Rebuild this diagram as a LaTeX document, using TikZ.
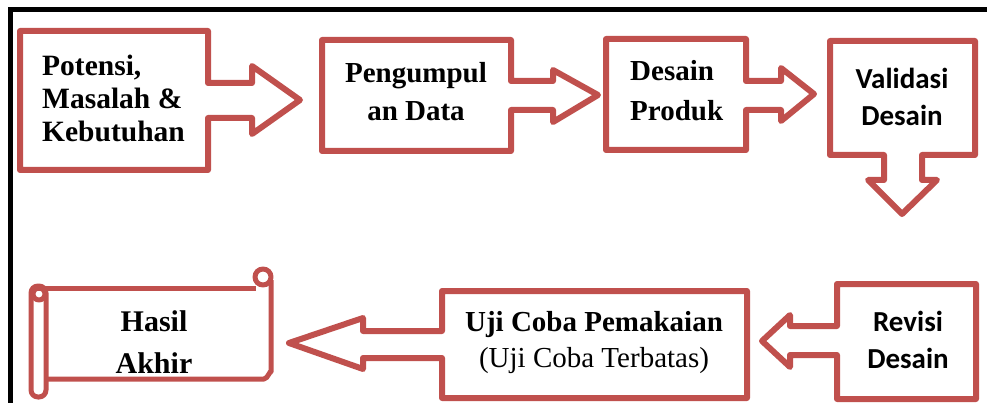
\documentclass[tikz,border=0pt]{standalone}
\usepackage{fontspec}
\setmainfont{Liberation Serif}
\newfontfamily\calibrifont{Carlito}
\usetikzlibrary{positioning}
\definecolor{CalloutRed}{RGB}{192,80,77}
\tikzset{
    callout/.style={draw=CalloutRed, line width=6pt, line join=round},
    scrollline/.style={draw=CalloutRed, line width=5pt, line join=round},
    frameline/.style={draw=black, line width=5pt},
    lbl/.style={inner sep=0pt, align=center, font=\fontsize{29}{38}\selectfont\bfseries},
    lblsans/.style={inner sep=0pt, align=center, font=\calibrifont\fontsize{29}{37}\selectfont\bfseries},
}
\begin{document}
\begin{tikzpicture}[x=1pt,y=-1pt]
\useasboundingbox (0,0) rectangle (987,403);
\draw[frameline] (10,403) -- (10,10) -- (987,10);

\draw[callout] (20,31) -- (208,31) -- (208,83) -- (252,83) -- (252,66) -- (300,100) -- (252,134) -- (252,118) -- (208,118) -- (208,170) -- (20,170) -- cycle;
\draw[callout] (322,40) -- (511,40) -- (511,81) -- (553,81) -- (553,70) -- (598,95) -- (553,122) -- (553,110) -- (511,110) -- (511,151) -- (322,151) -- cycle;
\draw[callout] (606,39) -- (746,39) -- (746,81) -- (781,81) -- (781,68) -- (814,94) -- (781,121) -- (781,110) -- (746,110) -- (746,150) -- (606,150) -- cycle;
\draw[callout] (830,41) -- (975,41) -- (975,155) -- (922,155) -- (922,180) -- (937,180) -- (902,214) -- (868,180) -- (884,180) -- (884,155) -- (830,155) -- cycle;
\draw[callout] (837,284) -- (976,284) -- (976,399) -- (837,399) -- (837,355) -- (790,355) -- (790,367) -- (762,341) -- (790,315) -- (790,326) -- (837,326) -- cycle;
\draw[callout] (442,291) -- (747,291) -- (747,398) -- (442,398) -- (442,358) -- (363,358) -- (363,369) -- (289,343) -- (363,318) -- (363,331) -- (442,331) -- cycle;

\draw[scrollline] (46,379) -- (264,379) to[out=0,in=90] (271,372) -- (271,280);
\draw[scrollline] (31,288) -- (256,288);
\draw[scrollline] (263,277) circle[radius=8];
\draw[scrollline, rounded corners=7] (31,286) rectangle (46,397);
\draw[scrollline] (39,294) circle[radius=6];

\node[lbl, align=left, anchor=west, font=\fontsize{29.5}{33}\selectfont\bfseries] (potensi) at (42,98) {Potensi,\\Masalah \&\\Kebutuhan};
\node[lbl] (kumpul) at (416,92) {Pengumpul\\an Data};
\node[lbl, align=left, anchor=west, font=\fontsize{29}{40}\selectfont\bfseries] (desain) at (630,91) {Desain\\Produk};
\node[lblsans] (validasi) at (902,97) {Validasi\\Desain};
\node[lblsans] (revisi) at (908,340) {Revisi\\Desain};
\node[lbl, font=\fontsize{29}{36}\selectfont] (ujicoba) at (594,343) {\textbf{Uji Coba Pemakaian}\\(Uji Coba Terbatas)};
\node[lbl, font=\fontsize{30}{42}\selectfont\bfseries] (hasil) at (154,342) {Hasil\\Akhir};
\end{tikzpicture}
\end{document}
